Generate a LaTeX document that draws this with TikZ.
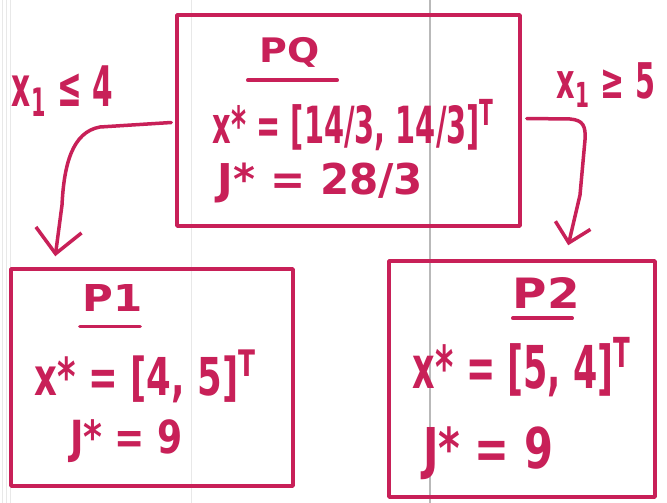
\documentclass[tikz,border=0pt]{standalone}
\usepackage{fontspec}
\usepackage{graphicx}
\setmainfont{DejaVu Sans}
\usetikzlibrary{arrows.meta}
\definecolor{ink}{RGB}{200,32,88}
\newcommand\hw[3]{\resizebox*{#1pt}{#2pt}{\bfseries #3}}
\begin{document}
\begin{tikzpicture}[x=1pt,y=-1pt,
  box/.style={draw=ink,line width=3.5pt,inner sep=0pt,line join=round},
  txt/.style={text=ink,inner sep=0pt},
  conn/.style={draw=ink,line width=3.5pt,line cap=round,line join=round},
  paper/.style={draw=gray!18,line width=0.8pt}]
\useasboundingbox (0,0) rectangle (667,503);
\fill[white] (0,0) rectangle (667,503);
% notebook paper lines
\draw[paper] (2,0) -- (2,503);
\draw[paper] (6,0) -- (6,503);
\draw[paper] (10,0) -- (10,503);
\draw[paper] (191,0) -- (191,503);
\draw[draw=gray!55,line width=1.3pt] (430,0) -- (430,503);
% boxes
\node[box, minimum width=343pt, minimum height=211pt] (pq) at (348.5,120.5) {};
\node[box, minimum width=282pt, minimum height=217pt] (p1) at (152,377.5) {};
\node[box, minimum width=266pt, minimum height=236pt] (p2) at (522,379) {};
% texts
\node[txt] (pqt) at (290,52) {\hw{60}{30}{PQ}};
\node[txt] (pqx) at (354,125) {\hw{282}{52}{x* = [14/3, 14/3]\textsuperscript{T}}};
\node[txt] (pqj) at (320.5,183) {\hw{205}{40}{J* = 28/3}};
\node[txt] (p1t) at (113,298) {\hw{60}{27}{P1}};
\node[txt] (p1x) at (146,376) {\hw{222}{53}{x* = [4, 5]\textsuperscript{T}}};
\node[txt] (p1j) at (126.5,441.5) {\hw{113}{43}{J* = 9}};
\node[txt] (p2t) at (546.5,292.5) {\hw{67}{31}{P2}};
\node[txt] (p2x) at (522.5,367) {\hw{219}{60}{x* = [5, 4]\textsuperscript{T}}};
\node[txt] (p2j) at (488,453.5) {\hw{130}{53}{J* = 9}};
\node[txt] (l1) at (62.5,91) {\hw{101}{50}{x\textsubscript{1} ≤ 4}};
\node[txt] (l2) at (606,85) {\hw{98}{44}{x\textsubscript{1} ≥ 5}};
% underlines
\draw[conn] ([xshift=-12pt,yshift=-13pt]pqt.south west) -- ([xshift=17pt,yshift=-13pt]pqt.south east);
\draw[conn] ([xshift=-3pt,yshift=-15pt]p1t.south west) -- ([xshift=-3pt,yshift=-15pt]p1t.south east);
\draw[conn] ([yshift=-10pt]p2t.south west) -- ([xshift=-8pt,yshift=-10pt]p2t.south east);
% connectors
\draw[conn,-{Straight Barb[length=24pt,width=46pt]}] ([xshift=-4pt,yshift=-2pt]pq.west) -- (100,127) .. controls (72,132) and (64,165) .. (62,205) -- ([xshift=46pt,yshift=11pt]p1.north west);
\draw[conn,-{Straight Barb[length=18pt,width=36pt]}] ([xshift=5pt,yshift=2pt]pq.east) -- (570,119) .. controls (583,120) and (586,126) .. (585,140) -- (580,195) -- ([xshift=181pt,yshift=14pt]p2.north west);
\end{tikzpicture}
\end{document}
